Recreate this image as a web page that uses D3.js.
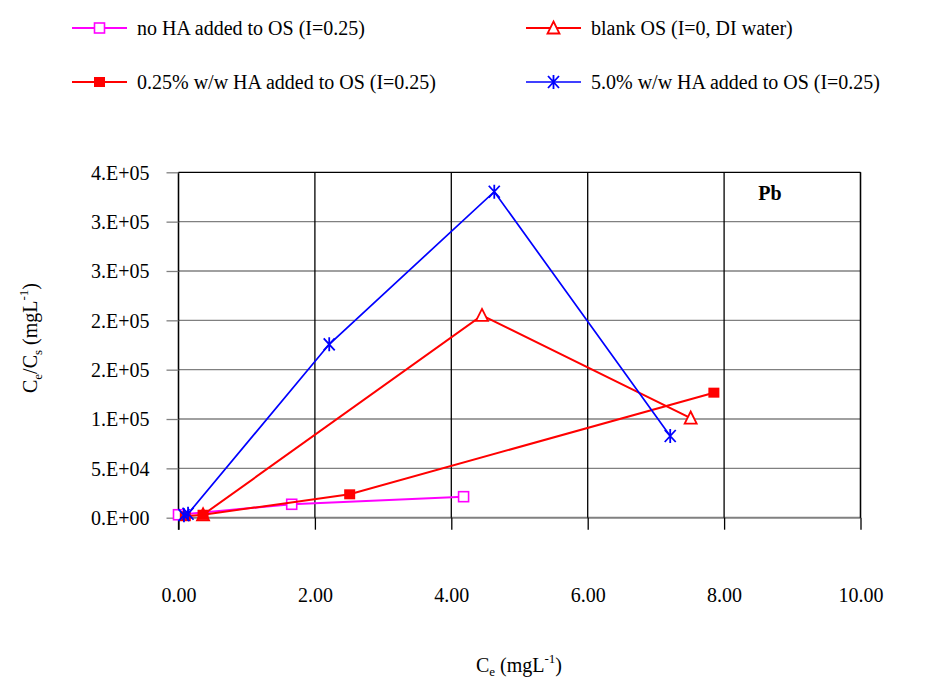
<!DOCTYPE html>
<html>
<head>
<meta charset="utf-8">
<script src="https://cdn.jsdelivr.net/npm/d3@7"></script>
</head>
<body style="margin:0;background:#fff">
<svg id="chart" width="952" height="680"></svg>
<script>
// ---- data ----
const xTicks = [0, 2, 4, 6, 8, 10];
const xTickLabels = ["0.00", "2.00", "4.00", "6.00", "8.00", "10.00"];
const yTicks = [0, 50000, 100000, 150000, 200000, 250000, 300000, 350000];
const yTickLabels = ["0.E+00", "5.E+04", "1.E+05", "2.E+05", "2.E+05", "3.E+05", "3.E+05", "4.E+05"];

const seriesNames = [
  "no HA added to OS (I=0.25)",
  "blank OS (I=0, DI water)",
  "0.25% w/w HA added to OS (I=0.25)",
  "5.0% w/w HA added to OS (I=0.25)"
];

const noHA_x = [0.00, 1.66, 4.18];
const noHA_y = [3000, 13600, 21300];

const blank_x = [0.36, 4.45, 7.51];
const blank_y = [3000, 205000, 101000];

const ha025_x = [0.10, 0.36, 2.51, 7.85];
const ha025_y = [1500, 3000, 23700, 126700];

const ha50_x = [0.08, 0.14, 2.21, 4.63, 7.21];
const ha50_y = [2500, 4000, 175700, 330300, 82800];

// ---- layout ----
const FONT = "Liberation Serif";
const svg = d3.select("#chart");
const plotL = 178.5, plotR = 860.5, plotT = 172.3, plotB = 517.7;

const x = d3.scaleLinear().domain([0, 10]).range([plotL, plotR]);
const y = d3.scaleLinear().domain([0, 350000]).range([plotB, plotT]);

function styleText(sel, size, weight) {
  return sel.style("font-family", FONT)
    .style("font-size", (size || 20) + "px")
    .style("font-weight", weight || "normal")
    .style("fill", "#000");
}

function label(g, px, py, str, opts = {}) {
  const t = styleText(g.append("text"), 20, opts.weight)
    .attr("x", px).attr("y", py)
    .attr("text-anchor", opts.anchor || "start");
  if (str !== null) t.text(str);
  return t;
}

function small(t, dy, str) {
  t.append("tspan").attr("dy", dy).style("font-size", "13px").text(str);
}

// ---- grid ----
const grid = svg.append("g");
grid.selectAll("line.h").data(yTicks).join("line")
  .attr("x1", plotL).attr("x2", plotR)
  .attr("y1", d => y(d)).attr("y2", d => y(d))
  .attr("stroke", d => d === 350000 ? "#000" : "#808080")
  .attr("stroke-width", d => d === 0 ? 2 : 1.3);
grid.selectAll("line.v").data(xTicks).join("line")
  .attr("x1", d => x(d)).attr("x2", d => x(d))
  .attr("y1", plotT).attr("y2", plotB)
  .attr("stroke", "#000").attr("stroke-width", 1.3);

// ---- axes ----
const yAxis = svg.append("g").attr("transform", `translate(${plotL},0)`)
  .call(d3.axisLeft(y).tickValues(yTicks).tickSize(12).tickPadding(17)
    .tickFormat((d, i) => yTickLabels[i]))
  .attr("font-family", null).attr("font-size", null);
yAxis.select(".domain").attr("stroke", "#000").attr("stroke-width", 1.3)
  .attr("d", `M0,${plotT}V${plotB + 12}`);
yAxis.selectAll(".tick line").attr("stroke", "#808080").attr("stroke-width", 1.3);
styleText(yAxis.selectAll(".tick text"), 20).attr("dy", "0.34em").attr("fill", null);

const xAxis = svg.append("g").attr("transform", `translate(0,${plotB})`)
  .call(d3.axisBottom(x).tickValues(xTicks).tickSize(12).tickPadding(58)
    .tickFormat((d, i) => xTickLabels[i]))
  .attr("font-family", null).attr("font-size", null);
xAxis.select(".domain").remove();
xAxis.selectAll(".tick line").attr("stroke", "#000").attr("stroke-width", 1.3);
styleText(xAxis.selectAll(".tick text"), 20).attr("fill", null);

// right border
svg.append("line").attr("x1", plotR).attr("x2", plotR).attr("y1", plotT).attr("y2", plotB)
  .attr("stroke", "#000").attr("stroke-width", 1.3);

// ---- axis titles ----
const xt = label(svg, 519, 672, null, { anchor: "middle" });
xt.append("tspan").text("C");
small(xt, 4, "e");
xt.append("tspan").attr("dy", -4).text(" (mgL");
small(xt, -9, "-1");
xt.append("tspan").attr("dy", 9).text(")");

const ytG = svg.append("g").attr("transform", "translate(37,338) rotate(-90)");
const yt = label(ytG, 0, 0, null, { anchor: "middle" });
yt.append("tspan").text("C");
small(yt, 5, "e");
yt.append("tspan").attr("dy", -5).text("/C");
small(yt, 5, "s");
yt.append("tspan").attr("dy", -5).text(" (mgL");
small(yt, -9, "-1");
yt.append("tspan").attr("dy", 9).text(")");

// element label
label(svg, 770, 200, "Pb", { anchor: "middle", weight: "bold" });

// ---- markers ----
function drawMarker(g, kind, color) {
  if (kind === "openSquare") {
    g.append("rect").attr("x", -5).attr("y", -5).attr("width", 10).attr("height", 10)
      .attr("fill", "#fff").attr("stroke", color).attr("stroke-width", 1.6);
  } else if (kind === "openTriangle") {
    g.append("path").attr("d", "M0,-6.5L6,5.5L-6,5.5Z")
      .attr("fill", "#fff").attr("stroke", color).attr("stroke-width", 1.8);
  } else if (kind === "filledSquare") {
    g.append("rect").attr("x", -5.5).attr("y", -5).attr("width", 11).attr("height", 10)
      .attr("fill", color);
  } else if (kind === "star") {
    g.append("path").attr("d", "M0,-7V7M-5.5,-6L5.5,6M-5.5,6L5.5,-6")
      .attr("fill", "none").attr("stroke", color).attr("stroke-width", 1.8);
  }
}

const series = [
  { name: seriesNames[0], xs: noHA_x, ys: noHA_y, color: "#ff00ff", marker: "openSquare", w: 2 },
  { name: seriesNames[1], xs: blank_x, ys: blank_y, color: "#ff0000", marker: "openTriangle", w: 2 },
  { name: seriesNames[2], xs: ha025_x, ys: ha025_y, color: "#ff0000", marker: "filledSquare", w: 2 },
  { name: seriesNames[3], xs: ha50_x, ys: ha50_y, color: "#0000ff", marker: "star", w: 1.7 }
];

const line = d3.line().x(d => x(d[0])).y(d => y(d[1]));
const plot = svg.append("g");
series.forEach(s => {
  const pts = s.xs.map((v, i) => [v, s.ys[i]]);
  plot.append("path").datum(pts).attr("d", line)
    .attr("fill", "none").attr("stroke", s.color).attr("stroke-width", s.w);
  pts.forEach(p => {
    drawMarker(plot.append("g").attr("transform", `translate(${x(p[0])},${y(p[1])})`), s.marker, s.color);
  });
});

// ---- legend ----
const legendPos = [
  { lx: 72, ly: 28, tx: 137 },
  { lx: 526, ly: 28, tx: 591 },
  { lx: 72, ly: 82, tx: 137 },
  { lx: 526, ly: 82, tx: 591 }
];
const legend = svg.append("g");
series.forEach((s, i) => {
  const p = legendPos[i];
  legend.append("line").attr("x1", p.lx).attr("x2", p.lx + 55)
    .attr("y1", p.ly).attr("y2", p.ly)
    .attr("stroke", s.color).attr("stroke-width", s.w);
  drawMarker(legend.append("g").attr("transform", `translate(${p.lx + 27.5},${p.ly})`), s.marker, s.color);
  label(legend, p.tx, p.ly + 7, s.name);
});
</script>
</body>
</html>
